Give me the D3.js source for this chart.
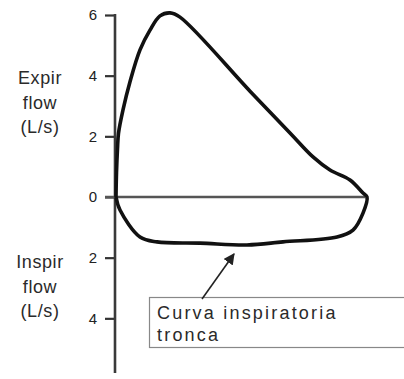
<!DOCTYPE html>
<html>
<head>
<meta charset="utf-8">
<script src="https://cdn.jsdelivr.net/npm/d3@7/dist/d3.min.js"></script>
<style>
  html, body { margin: 0; padding: 0; background: #fff; }
  svg { display: block; }
  text { font-family: "Liberation Sans", Arial, sans-serif; }
</style>
</head>
<body>
<svg id="chart" width="404" height="379"></svg>
<script>
// Flow-volume loop with a truncated inspiratory limb.
// Volume in litres (x), flow in L/s (y, expiration positive).
const expVolume = [0, 0.01, 0.03, 0.05, 0.14, 0.28, 0.48, 0.68, 0.88, 1.08, 1.28, 2.68, 3.48, 3.94, 4.28, 4.68, 4.94, 5.02];
const expFlow   = [0, 0.80, 1.60, 2.10, 2.87, 3.80, 4.85, 5.50, 5.97, 6.07, 5.93, 3.49, 2.11, 1.32, 0.89, 0.56, 0.13, 0];
const inspVolume = [5.02, 4.94, 4.74, 4.42, 3.34, 2.62, 1.68, 0.82, 0.48, 0.08, 0];
const inspFlow   = [0, -0.53, -1.09, -1.32, -1.48, -1.58, -1.52, -1.48, -1.32, -0.43, 0];
const flowTicks = [6, 4, 2, 0, -2, -4];
const expLabel = ["Expir", "flow", "(L/s)"];
const inspLabel = ["Inspir", "flow", "(L/s)"];
const noteLines = ["Curva inspiratoria", "tronca"];

const svg = d3.select("#chart");

const x = d3.scaleLinear().domain([0, 5]).range([116, 366]);
const y = d3.scaleLinear().domain([-6, 6]).range([379, 15]);

// vertical axis: ticks on the left, magnitudes only
const axis = d3.axisLeft(y)
  .tickValues(flowTicks)
  .tickFormat(d => Math.abs(d))
  .tickSize(10)
  .tickSizeOuter(0)
  .tickPadding(8);

const gAxis = svg.append("g")
  .attr("transform", `translate(${x(0) - 1},0)`)
  .call(axis);
gAxis.select(".domain").remove();
gAxis.selectAll(".tick line").attr("stroke", "#333").attr("stroke-width", 2.2);
gAxis.selectAll(".tick text")
  .attr("fill", "#222")
  .style("font-size", "15px")
  .style("font-family", "'Liberation Sans', Arial, sans-serif");

gAxis.append("line")
  .attr("x1", 0).attr("x2", 0)
  .attr("y1", y(6) - 1).attr("y2", y(-5.8))
  .attr("stroke", "#3a3a3a").attr("stroke-width", 2.6);

// zero-flow line
svg.append("line")
  .attr("x1", x(0) - 11).attr("x2", x(4.98))
  .attr("y1", y(0)).attr("y2", y(0))
  .attr("stroke", "#555").attr("stroke-width", 2.6);

// the loop
const loop = expVolume.map((v, i) => [v, expFlow[i]])
  .concat(inspVolume.slice(1).map((v, i) => [v, inspFlow[i + 1]]));

svg.append("path")
  .datum(loop)
  .attr("d", d3.line().x(d => x(d[0])).y(d => y(d[1])).curve(d3.curveCatmullRom.alpha(0.5)))
  .attr("fill", "none")
  .attr("stroke", "#111")
  .attr("stroke-width", 3.6)
  .attr("stroke-linejoin", "round");

// axis captions
function caption(lines, cx, firstBaseline) {
  const t = svg.append("text")
    .attr("text-anchor", "middle")
    .attr("fill", "#2a2a2a")
    .style("font-size", "18px")
    .style("letter-spacing", "0.6px");
  lines.forEach((s, i) => {
    t.append("tspan").attr("x", cx).attr("y", firstBaseline + i * 24.5).text(s);
  });
}
caption(expLabel, 40, 84);
caption(inspLabel, 40, 268);

// annotation box and arrow
svg.append("defs").append("marker")
  .attr("id", "head")
  .attr("viewBox", "0 0 10 10")
  .attr("refX", 9).attr("refY", 5)
  .attr("markerWidth", 7).attr("markerHeight", 7)
  .attr("orient", "auto")
  .append("path").attr("d", "M0,0 L10,5 L0,10 z").attr("fill", "#222");

svg.append("rect")
  .attr("x", 149.5).attr("y", 297.5)
  .attr("width", 300).attr("height", 50)
  .attr("fill", "#fff")
  .attr("stroke", "#888").attr("stroke-width", 1.2);

svg.append("line")
  .attr("x1", 202).attr("y1", 299)
  .attr("x2", 234).attr("y2", 254)
  .attr("stroke", "#222").attr("stroke-width", 1.6)
  .attr("marker-end", "url(#head)");

const note = svg.append("text")
  .attr("fill", "#2a2a2a")
  .style("font-size", "18px")
  .style("letter-spacing", "2.2px");
noteLines.forEach((s, i) => {
  note.append("tspan").attr("x", 157).attr("y", 319 + i * 22).text(s);
});
</script>
</body>
</html>
